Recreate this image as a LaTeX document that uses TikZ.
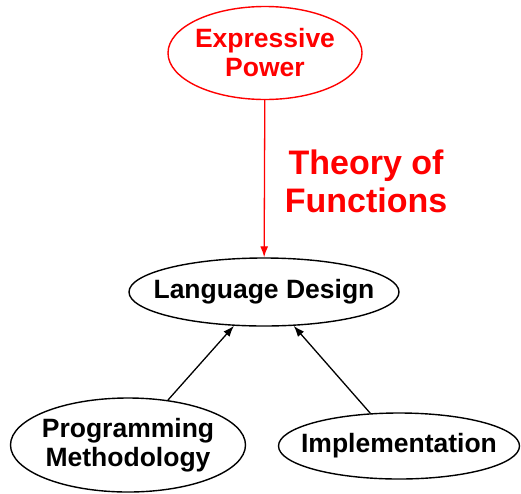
\documentclass[tikz,border=0pt]{standalone}
\usepackage{fontspec}
\setmainfont{Liberation Sans}
\usetikzlibrary{shapes.geometric,arrows.meta}
\begin{document}
\begin{tikzpicture}[x=1pt,y=-1pt,
  oval/.style={ellipse,draw,line width=1.4pt,inner sep=0pt},
  ovaltext/.style={align=center,font=\fontsize{26.5}{29}\selectfont\bfseries},
  link/.style={line width=1.3pt,-{Latex[length=11pt,width=8pt]}}]
\useasboundingbox (0,0) rectangle (521,493);
\node[oval,draw=red,minimum width=194,minimum height=93,
  label={[ovaltext,text=red]center:Expressive\\Power}] (ep) at (265,53) {};
\node[oval,minimum width=270,minimum height=68,
  label={[ovaltext]center:Language Design}] (ld) at (264,292) {};
\node[oval,minimum width=235,minimum height=94,
  label={[ovaltext]center:Programming\\Methodology}] (pm) at (128,445) {};
\node[oval,minimum width=241,minimum height=66,
  label={[ovaltext]center:Implementation}] (im) at (399,446) {};
\node[text=red,align=center,font=\fontsize{34}{38}\selectfont\bfseries] (tf) at (366,181) {Theory of\\Functions};
\draw[link,red] (ep) -- (ld);
\draw[link] (pm) -- (ld);
\draw[link] (im) -- (ld);
\end{tikzpicture}
\end{document}
